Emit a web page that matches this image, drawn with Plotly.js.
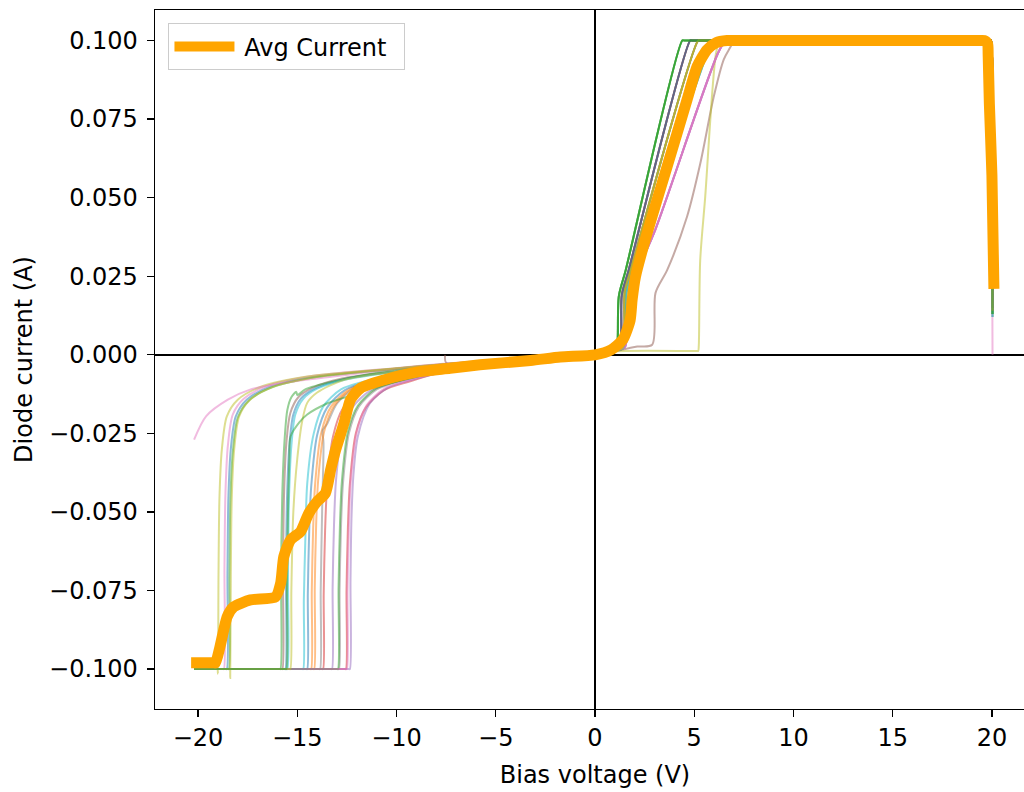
<!DOCTYPE html>
<html>
<head>
<meta charset="utf-8">
<script src="https://cdn.plot.ly/plotly-3.0.1.min.js"></script>
<style>
html,body{margin:0;padding:0;overflow:hidden;background:#fff;}
#chart{width:1040px;height:792px;}
</style>
</head>
<body>
<div id="chart"></div>
<script>
// ---------- Tick labels ----------
const xTickVals = [-20, -15, -10, -5, 0, 5, 10, 15, 20];
const xTickText = ["\u221220", "\u221215", "\u221210", "\u22125", "0", "5", "10", "15", "20"];
const yTickVals = [-0.1, -0.075, -0.05, -0.025, 0, 0.025, 0.05, 0.075, 0.1];
const yTickText = ["\u22120.100", "\u22120.075", "\u22120.050", "\u22120.025", "0.000", "0.025", "0.050", "0.075", "0.100"];

// ---------- Average current ----------
const avgV = [-20.35, -19.2, -19.12, -18.9, -18.53, -18.2, -17.36, -16.1, -15.84, -15.68, -15.34, -14.84, -14.42, -14.0, -13.58, -13.32, -13.07, -12.65, -12.32, -11.81, -10.64, -9.0, -7.3, -5.8, -3.25, -1.74, 0.0, 0.82, 1.4, 1.77, 1.87, 2.04, 2.63, 3.64, 4.64, 5.15, 5.65, 6.1, 6.66, 6.9, 19.4, 19.6, 19.78, 19.81, 19.87, 20.0, 20.1];
const avgI = [-0.098, -0.098, -0.098, -0.093, -0.0833, -0.0802, -0.078, -0.077, -0.0727, -0.0642, -0.0589, -0.0563, -0.0504, -0.0467, -0.044, -0.0366, -0.0303, -0.0218, -0.0143, -0.0106, -0.008, -0.0055, -0.0043, -0.0032, -0.0018, -0.0007, 0.0, 0.0016, 0.0048, 0.011, 0.0175, 0.0249, 0.0388, 0.060, 0.0812, 0.0918, 0.0971, 0.0993, 0.1, 0.1, 0.1, 0.1, 0.099, 0.0955, 0.08, 0.057, 0.021];

// ---------- Forward-bias sweeps (shared shapes) ----------
const fwdA_V = [0.5, 1.0, 1.1, 1.2, 1.55, 4.4, 4.5, 19.9, 19.95, 20.0, 20.03];
const fwdA_I = [0.0004, 0.0012, 0.0018, 0.0186, 0.027, 0.1, 0.1, 0.1, 0.1, 0.06, 0.013];
const fwdB_V = [0.5, 1.0, 1.25, 1.35, 1.7, 4.8, 4.9, 19.9, 19.95, 20.0, 20.03];
const fwdB_I = [0.0004, 0.0012, 0.002, 0.019, 0.027, 0.1, 0.1, 0.1, 0.1, 0.06, 0.015];
const fwdC_V = [0.5, 1.0, 1.4, 1.5, 1.85, 5.2, 5.3, 19.9, 19.95, 20.0, 20.03];
const fwdC_I = [0.0005, 0.0013, 0.0022, 0.02, 0.028, 0.1, 0.1, 0.1, 0.1, 0.06, 0.014];
const fwdD_V = [0.5, 1.0, 1.45, 1.6, 2.0, 5.6, 5.9, 6.0, 19.9, 19.95, 20.0, 20.03];
const fwdD_I = [0.0005, 0.0013, 0.0023, 0.02, 0.029, 0.095, 0.1, 0.1, 0.1, 0.1, 0.06, 0.012];
const fwdE_V = [0.5, 1.0, 1.5, 1.7, 2.1, 3.05, 6.2, 6.6, 6.7, 19.9, 19.95, 20.0, 20.03];
const fwdE_I = [0.0005, 0.0014, 0.0024, 0.018, 0.026, 0.04, 0.096, 0.1, 0.1, 0.1, 0.1, 0.06, 0.014];
const fwdF_V = [0.5, 1.0, 2.13, 2.88, 3.05, 3.64, 4.64, 5.31, 5.98, 6.49, 6.74, 7.0, 7.2, 7.3, 19.9, 19.95, 20.0, 20.03];
const fwdF_I = [0.0004, 0.0011, 0.0026, 0.0032, 0.0197, 0.027, 0.044, 0.061, 0.082, 0.094, 0.097, 0.0995, 0.1, 0.1, 0.1, 0.1, 0.06, 0.016];
const fwdG_V = [0.5, 1.0, 5.15, 5.2, 5.23, 5.3, 5.55, 6.1, 6.3, 6.4, 19.9, 19.95, 20.0, 20.03];
const fwdG_I = [0.0004, 0.0011, 0.0012, 0.0012, 0.003, 0.03, 0.05, 0.096, 0.1, 0.1, 0.1, 0.1, 0.06, 0.013];
const fwdH_V = [0.5, 1.0, 1.5, 1.7, 2.1, 3.05, 6.2, 6.6, 6.7, 19.9, 19.95, 20.0, 20.03];
const fwdH_I = [0.0005, 0.0014, 0.0024, 0.018, 0.026, 0.04, 0.096, 0.1, 0.1, 0.1, 0.1, 0.05, 0.0];

// ---------- Reverse-bias sweeps, one per device ----------
const revA_V = [-20.2, -18.6, -18.55, -18.52, -18.47, -18.35, -18.1, -17.55, -16.35, -14.05, -9.8, -7.5, -5, -2.5, 0];
const revA_I = [-0.1, -0.1, -0.1, -0.07, -0.045, -0.03, -0.0196, -0.0143, -0.0101, -0.0069, -0.0043, -0.003, -0.0018, -0.0008, 0];
const revB_V = [-20.2, -14.35, -14.3, -14.27, -14.2, -14.1, -13.8, -13.3, -12.4, -11.1, -7.5, -5, -2.5, 0];
const revB_I = [-0.1, -0.1, -0.1, -0.075, -0.055, -0.041, -0.025, -0.0165, -0.011, -0.0082, -0.0045, -0.0028, -0.0012, 0];
const revC_V = [-20.2, -18.5, -18.45, -18.42, -18.37, -18.25, -18.0, -17.45, -16.25, -13.95, -9.8, -7.5, -5, -2.5, 0];
const revC_I = [-0.1, -0.1, -0.1, -0.071, -0.046, -0.031, -0.02, -0.0146, -0.0103, -0.007, -0.0044, -0.003, -0.0018, -0.0008, 0];
const revD_V = [-20.2, -13.75, -13.7, -13.67, -13.6, -13.5, -13.2, -12.7, -11.8, -10.5, -7.5, -5, -2.5, 0];
const revD_I = [-0.1, -0.1, -0.1, -0.076, -0.056, -0.042, -0.026, -0.017, -0.0115, -0.0085, -0.0047, -0.0029, -0.0012, 0];
const revE_V = [-20.2, -13.3, -13.25, -13.22, -13.15, -13.05, -12.75, -12.25, -11.35, -10.05, -7.5, -5, -2.5, 0];
const revE_I = [-0.1, -0.1, -0.1, -0.074, -0.054, -0.04, -0.025, -0.017, -0.0115, -0.0086, -0.005, -0.0031, -0.0013, 0];
const revF_V = [-20.2, -15.8, -15.75, -15.72, -15.67, -15.55, -15.35, -14.95, -14.25, -12.75, -10, -7.5, -5, -2.5, 0];
const revF_I = [-0.1, -0.1, -0.1, -0.07, -0.045, -0.028, -0.0185, -0.0135, -0.0105, -0.0075, -0.0052, -0.0035, -0.0021, -0.0009, 0];
const revG_V = [-20.2, -18.75, -18.7, -18.67, -18.62, -18.5, -18.25, -17.7, -16.5, -14.2, -9.8, -7.5, -5, -2.5, 0];
const revG_I = [-0.1, -0.1, -0.1, -0.068, -0.044, -0.029, -0.019, -0.014, -0.0099, -0.0067, -0.0041, -0.0028, -0.0017, -0.0007, 0];
const revH_V = [-20.2, -13.9, -13.85, -13.82, -13.75, -13.68, -13.72, -13.5, -13.0, -12.1, -10.8, -7.5, -5, -2.5, 0];
const revH_I = [-0.1, -0.1, -0.1, -0.075, -0.05, -0.028, -0.024, -0.022, -0.0155, -0.0105, -0.008, -0.0044, -0.0027, -0.0011, 0];
const revI_V = [-20.2, -19.07, -19.02, -19.0, -18.97, -18.92, -18.8, -18.55, -18.0, -16.8, -14.5, -9.8, -7.5, -5, -2.5, 0];
const revI_I = [-0.1, -0.1, -0.1, -0.1015, -0.07, -0.045, -0.03, -0.0196, -0.0143, -0.0101, -0.0069, -0.0042, -0.0029, -0.0018, -0.0008, 0];
const revJ_V = [-20.2, -14.75, -14.7, -14.67, -14.6, -14.5, -14.17, -13.7, -12.8, -11.5, -7.5, -5, -2.5, 0];
const revJ_I = [-0.1, -0.1, -0.1, -0.078, -0.06, -0.041, -0.025, -0.0165, -0.011, -0.0083, -0.0046, -0.0028, -0.0012, 0];
const revK_V = [-20.2, -15.65, -15.6, -15.57, -15.52, -15.4, -15.2, -14.8, -14.1, -12.6, -10, -7.5, -5, -2.5, 0];
const revK_I = [-0.1, -0.1, -0.1, -0.071, -0.046, -0.029, -0.019, -0.0138, -0.0107, -0.0077, -0.0053, -0.0036, -0.0021, -0.0009, 0];
const revL_V = [-20.2, -14.2, -14.15, -14.12, -14.05, -13.95, -13.65, -13.15, -12.25, -10.95, -7.5, -5, -2.5, 0];
const revL_I = [-0.1, -0.1, -0.1, -0.074, -0.054, -0.04, -0.0245, -0.0163, -0.0108, -0.008, -0.0044, -0.0027, -0.0011, 0];
const revM_V = [-20.2, -15.9, -15.85, -15.82, -15.76, -15.65, -15.5, -15.3, -15.05, -15.0, -14.6, -13.2, -10.1, -7.5, -5, -2.5, 0];
const revM_I = [-0.1, -0.1, -0.1, -0.07, -0.045, -0.028, -0.0175, -0.0135, -0.0118, -0.0128, -0.011, -0.0085, -0.0048, -0.0033, -0.002, -0.0009, 0];
const revN_V = [-20.2, -12.6, -12.55, -12.52, -12.45, -12.35, -12.05, -11.55, -10.65, -9.35, -7.5, -5, -2.5, 0];
const revN_I = [-0.1, -0.1, -0.1, -0.075, -0.055, -0.041, -0.025, -0.0168, -0.0113, -0.0085, -0.0052, -0.0032, -0.0014, 0];
const revO_V = [-20.2, -12.4, -12.35, -12.32, -12.27, -12.17, -11.95, -11.35, -10.45, -9.15, -7.5, -5, -2.5, 0];
const revO_I = [-0.1, -0.1, -0.1, -0.072, -0.052, -0.038, -0.026, -0.0155, -0.0105, -0.0078, -0.0054, -0.0033, -0.0014, 0];
const revP_V = [-7.55, -7.5, -5, -2.5, 0];
const revP_I = [0, -0.0025, -0.0019, -0.0009, 0];
const revQ_V = [-20.2, -19.6, -18.5, -17.35, -15.7, -13.2, -9.0, -7.5, -5, -2.5, 0];
const revQ_I = [-0.027, -0.0196, -0.0143, -0.011, -0.009, -0.0069, -0.0037, -0.0029, -0.0018, -0.0008, 0];
const revR_V = [-20.2, -12.95, -12.9, -12.87, -12.8, -12.7, -12.4, -11.9, -11.0, -9.7, -7.5, -5, -2.5, 0];
const revR_I = [-0.1, -0.1, -0.1, -0.075, -0.055, -0.041, -0.025, -0.0165, -0.011, -0.0082, -0.0049, -0.003, -0.0013, 0];
const revS_V = [-20.2, -18.45, -18.4, -18.38, -18.35, -18.3, -18.18, -17.93, -17.38, -16.18, -13.88, -9.8, -7.5, -5, -2.5, 0];
const revS_I = [-0.1, -0.1, -0.1, -0.1028, -0.07, -0.045, -0.03, -0.0196, -0.0143, -0.0101, -0.0069, -0.0042, -0.0029, -0.0018, -0.0008, 0];
const revT_V = [-20.2, -15.55, -15.5, -15.47, -15.42, -15.3, -15.1, -14.7, -14.0, -12.5, -10, -7.5, -5, -2.5, 0];
const revT_I = [-0.1, -0.1, -0.1, -0.07, -0.046, -0.029, -0.019, -0.014, -0.0108, -0.0078, -0.0054, -0.0036, -0.0022, -0.0009, 0];
const revU_V = [-20.2, -14.55, -14.5, -14.47, -14.4, -14.3, -14.0, -13.5, -12.6, -11.3, -7.5, -5, -2.5, 0];
const revU_I = [-0.1, -0.1, -0.1, -0.076, -0.056, -0.042, -0.0255, -0.0168, -0.0112, -0.0083, -0.0045, -0.0028, -0.0012, 0];
const revV_V = [-20.2, -13.0, -12.95, -12.92, -12.85, -12.75, -12.45, -11.95, -11.05, -9.75, -7.5, -5, -2.5, 0];
const revV_I = [-0.1, -0.1, -0.1, -0.074, -0.054, -0.04, -0.0245, -0.0162, -0.0108, -0.008, -0.0048, -0.0029, -0.0012, 0];
const revW_V = [-20.2, -12.55, -12.5, -12.47, -12.4, -12.3, -12.0, -11.5, -10.6, -9.3, -7.5, -5, -2.5, 0];
const revW_I = [-0.1, -0.1, -0.1, -0.075, -0.055, -0.04, -0.0245, -0.016, -0.0107, -0.008, -0.0051, -0.0031, -0.0013, 0];
const revX_V = [-20.2, -15.4, -15.35, -15.3, -15.2, -15.0, -14.75, -14.5, -14.0, -12.67, -10, -7.5, -5, -2.5, 0];
const revX_I = [-0.1, -0.1, -0.1, -0.075, -0.05, -0.033, -0.021, -0.0153, -0.012, -0.008, -0.0053, -0.0035, -0.0021, -0.0009, 0];
const revY_V = [-20.2, -15.6, -15.55, -15.52, -15.47, -15.4, -15.34, -14.9, -14.5, -13.5, -12.48, -11.5, -10, -7.5, -5, -2.5, 0];
const revY_I = [-0.1, -0.1, -0.1, -0.075, -0.05, -0.033, -0.026, -0.0215, -0.019, -0.0155, -0.0133, -0.011, -0.0085, -0.005, -0.003, -0.0013, 0];

// ---------- Device list: reverse sweep, forward sweep, colour ----------
const C = {blue:"#1f77b4", orange:"#ff7f0e", green:"#2ca02c", red:"#d62728", purple:"#9467bd",
           brown:"#8c564b", pink:"#e377c2", gray:"#7f7f7f", olive:"#bcbd22", cyan:"#17becf"};
const devices = [
  [revA_V, revA_I, fwdC_V, fwdC_I, C.blue],
  [revB_V, revB_I, fwdD_V, fwdD_I, C.orange],
  [revC_V, revC_I, fwdA_V, fwdA_I, C.green],
  [revD_V, revD_I, fwdB_V, fwdB_I, C.red],
  [revE_V, revE_I, fwdE_V, fwdE_I, C.purple],
  [revF_V, revF_I, fwdF_V, fwdF_I, C.brown],
  [revG_V, revG_I, fwdE_V, fwdE_I, C.pink],
  [revH_V, revH_I, fwdC_V, fwdC_I, C.gray],
  [revI_V, revI_I, fwdG_V, fwdG_I, C.olive],
  [revJ_V, revJ_I, fwdD_V, fwdD_I, C.cyan],
  [revK_V, revK_I, fwdB_V, fwdB_I, C.blue],
  [revL_V, revL_I, fwdC_V, fwdC_I, C.orange],
  [revM_V, revM_I, fwdA_V, fwdA_I, C.green],
  [revN_V, revN_I, fwdB_V, fwdB_I, C.red],
  [revO_V, revO_I, fwdE_V, fwdE_I, C.purple],
  [revP_V, revP_I, fwdB_V, fwdB_I, C.brown],
  [revQ_V, revQ_I, fwdH_V, fwdH_I, C.pink],
  [revR_V, revR_I, fwdC_V, fwdC_I, C.gray],
  [revS_V, revS_I, fwdC_V, fwdC_I, C.olive],
  [revT_V, revT_I, fwdD_V, fwdD_I, C.cyan],
  [revU_V, revU_I, fwdB_V, fwdB_I, C.blue],
  [revV_V, revV_I, fwdA_V, fwdA_I, C.green],
  [revW_V, revW_I, fwdE_V, fwdE_I, C.pink],
  [revX_V, revX_I, fwdC_V, fwdC_I, C.olive],
  [revY_V, revY_I, fwdA_V, fwdA_I, C.green]
];

const traces = devices.map(d => ({
  type: "scatter", mode: "lines",
  x: d[0].concat(d[2]), y: d[1].concat(d[3]),
  line: {color: d[4], width: 2, shape: "spline", smoothing: 0.8},
  opacity: 0.5, showlegend: false, hoverinfo: "skip"
}));
traces.push({
  type: "scatter", mode: "lines", name: "\u2009Avg Current\u2002",
  x: avgV, y: avgI,
  line: {color: "#ffa500", width: 11, shape: "spline", smoothing: 0.6},
  showlegend: true
});

const F = "DejaVu Sans, Liberation Sans, sans-serif";
const FS = 24;
const layout = {
  width: 1040, height: 792,
  margin: {l: 155, r: 5, t: 10, b: 83},
  paper_bgcolor: "#fff", plot_bgcolor: "#fff",
  font: {family: F, size: FS, color: "#000"},
  showlegend: true,
  legend: {
    x: 0.0153, y: 0.981, xanchor: "left", yanchor: "top",
    bgcolor: "rgba(255,255,255,0.8)", bordercolor: "#cccccc", borderwidth: 1,
    font: {family: F, size: FS, color: "#000"}, itemwidth: 60
  },
  xaxis: {
    range: [-22.17, 22.17], tickmode: "array", tickvals: xTickVals, ticktext: xTickText,
    ticks: "outside", ticklen: 7, tickwidth: 1.3, tickcolor: "#000",
    showline: true, linecolor: "#000", linewidth: 1.3, mirror: true,
    showgrid: false, zeroline: true, zerolinecolor: "#000", zerolinewidth: 2.4,
    title: {text: "Bias voltage (V)", font: {family: F, size: FS, color: "#000"}, standoff: 15},
    automargin: false
  },
  yaxis: {
    range: [-0.1127, 0.1097], tickmode: "array", tickvals: yTickVals, ticktext: yTickText,
    ticks: "outside", ticklen: 7, tickwidth: 1.3, tickcolor: "#000",
    ticklabelstandoff: 4,
    showline: true, linecolor: "#000", linewidth: 1.3, mirror: true,
    showgrid: false, zeroline: true, zerolinecolor: "#000", zerolinewidth: 2.4,
    title: {text: "Diode current (A)", font: {family: F, size: FS, color: "#000"}, standoff: 9},
    automargin: false
  }
};

Plotly.newPlot("chart", traces, layout, {staticPlot: true, displayModeBar: false});
</script>
</body>
</html>
